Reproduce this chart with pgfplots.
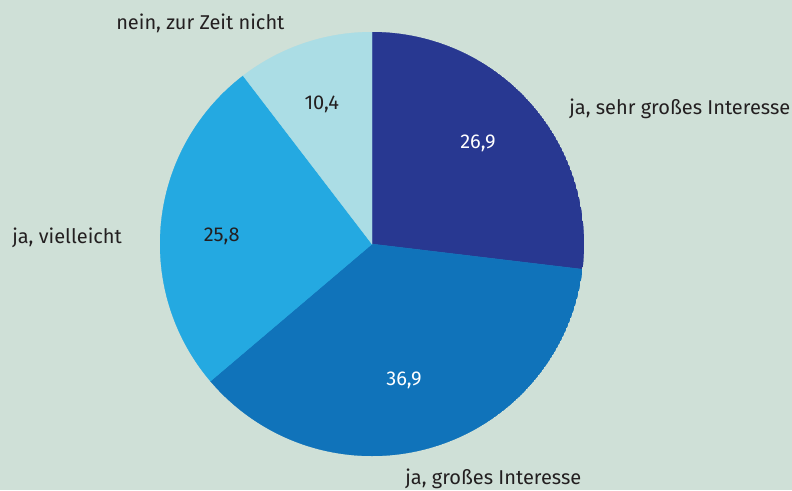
\documentclass[border=0pt]{standalone}
\usepackage{pgfplots}
\pgfplotsset{compat=1.18}
\usepgfplotslibrary{polar}
\usepackage{fontspec}
\setmainfont{Fira Sans}
\definecolor{bg}{HTML}{CFE0D7}
\definecolor{c1}{HTML}{283891}
\definecolor{c2}{HTML}{1073BA}
\definecolor{c3}{HTML}{24A9E1}
\definecolor{c4}{HTML}{ABDDE5}
\definecolor{txt}{HTML}{231F20}
% values (percent)
\def\va{26.9}\def\vb{36.9}\def\vc{25.8}\def\vd{10.4}
\pgfmathsetmacro{\aA}{90}
\pgfmathsetmacro{\aB}{\aA-3.6*\va}
\pgfmathsetmacro{\aC}{\aB-3.6*\vb}
\pgfmathsetmacro{\aD}{\aC-3.6*\vc}
\pgfmathsetmacro{\aE}{\aD-3.6*\vd}
\begin{document}
\begin{tikzpicture}
\fill[bg] (0,0) rectangle (594pt,-367.5pt);
\useasboundingbox (0,0) rectangle (594pt,-367.5pt);
\begin{polaraxis}[
  at={(279pt,-183pt)}, anchor=center,
  hide axis, scale only axis, width=318pt, height=318pt,
  ymin=0, ymax=1,
  samples=120,
]
\addplot[fill=c1, draw=c1, line width=0.3pt, domain=\aB:\aA] {1} -- (axis cs:0,0) -- cycle;
\addplot[fill=c2, draw=c2, line width=0.3pt, domain=\aC:\aB] {1} -- (axis cs:0,0) -- cycle;
\addplot[fill=c3, draw=c3, line width=0.3pt, domain=\aD:\aC] {1} -- (axis cs:0,0) -- cycle;
\addplot[fill=c4, draw=c4, line width=0.3pt, domain=\aE:\aD] {1} -- (axis cs:0,0) -- cycle;
\node[font=\fontsize{15}{18}\selectfont, text=white] at (axis cs:43.6,0.69) {26,9};
\node[font=\fontsize{15}{18}\selectfont, text=white] at (axis cs:-76.8,0.66) {36,9};
\node[font=\fontsize{15}{18}\selectfont, text=txt] at (axis cs:177,0.71) {25,8};
\node[font=\fontsize{15}{18}\selectfont, text=txt] at (axis cs:109.8,0.70) {10,4};
\end{polaraxis}
\begin{scope}[every node/.style={font=\fontsize{15}{18}\selectfont, text=txt, inner sep=0pt, anchor=base west}]
\node at (87pt,-21.75pt) {nein, zur Zeit nicht};
\node at (426.75pt,-85.7pt) {ja, sehr großes Interesse};
\node at (9pt,-182.25pt) {ja, vielleicht};
\node at (303.75pt,-363pt) {ja, großes Interesse};
\end{scope}
\end{tikzpicture}
\end{document}
